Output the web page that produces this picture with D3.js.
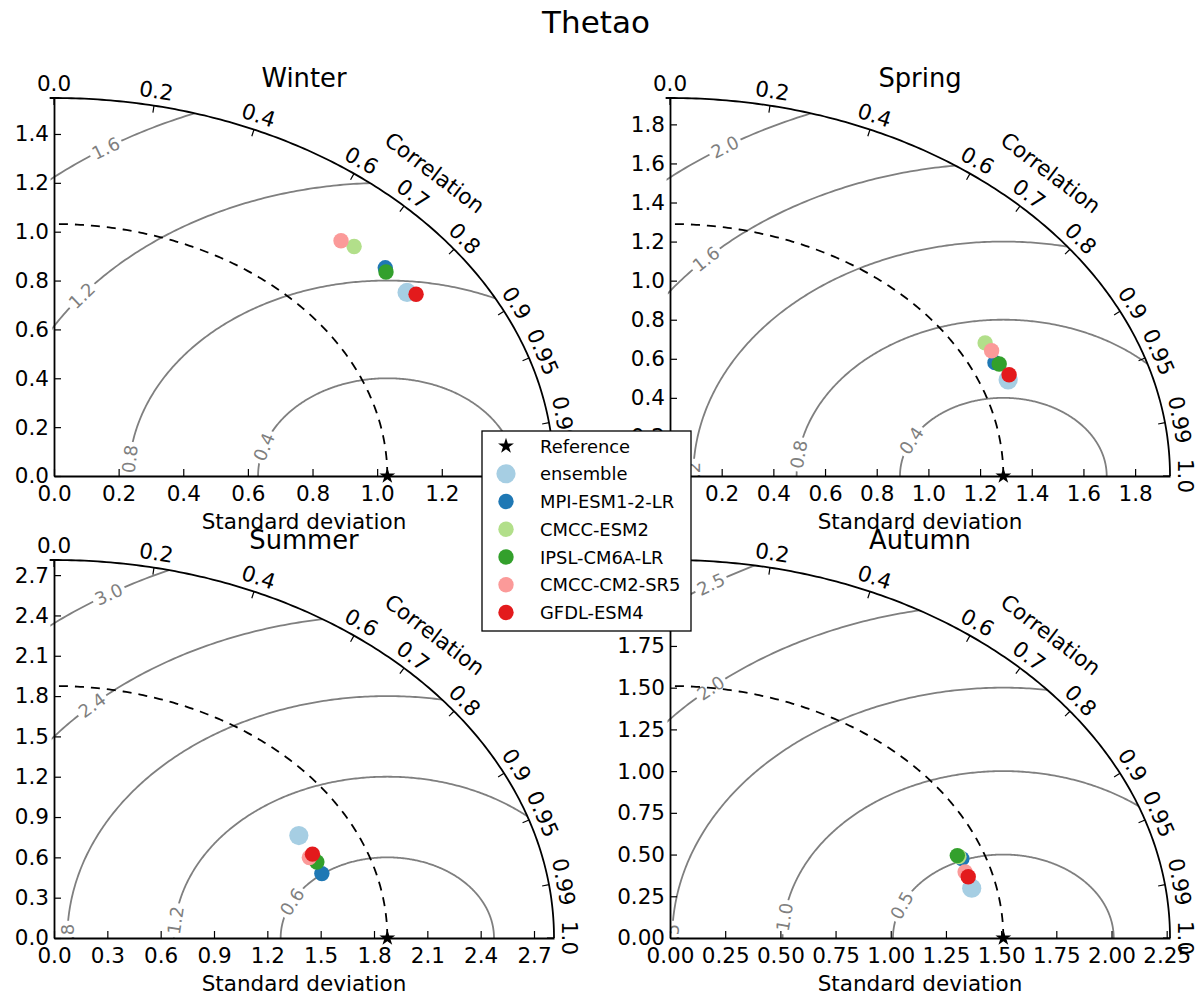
<!DOCTYPE html>
<html lang="en">
<head>
<meta charset="utf-8" />
<title>Thetao</title>
<script src="https://d3js.org/d3.v7.min.js" charset="utf-8"></script>
<style>
  body { margin: 0; background: #fff; }
  svg { display: block; font-family: "DejaVu Sans", sans-serif; }
</style>
</head>
<body>
<div id="svg-container"></div>
<script>
// ---- data ----
const seasons = ["Winter", "Spring", "Summer", "Autumn"];
const refStd = [1.0315, 1.29, 1.875, 1.51];

const models = ["ensemble", "MPI-ESM1-2-LR", "CMCC-ESM2", "IPSL-CM6A-LR", "CMCC-CM2-SR5", "GFDL-ESM4"];
const modelColors = ["#a6cee3", "#1f78b4", "#b2df8a", "#33a02c", "#fb9a99", "#e31a1c"];

const winterStd  = [1.326, 1.333, 1.321, 1.324, 1.310, 1.345];
const winterCorr = [0.824, 0.769, 0.703, 0.776, 0.678, 0.833];
const springStd  = [1.398, 1.385, 1.397, 1.397, 1.400, 1.411];
const springCorr = [0.936, 0.908, 0.873, 0.912, 0.889, 0.930];
const summerStd  = [1.574, 1.581, 1.574, 1.583, 1.556, 1.582];
const summerCorr = [0.875, 0.953, 0.926, 0.934, 0.923, 0.919];
const autumnStd  = [1.399, 1.405, 1.397, 1.392, 1.394, 1.400];
const autumnCorr = [0.977, 0.941, 0.937, 0.935, 0.959, 0.965];

// std-dev ticks (x and y axes)
const winterTicks = [0, 0.2, 0.4, 0.6, 0.8, 1.0, 1.2, 1.4];
const springTicks = [0, 0.2, 0.4, 0.6, 0.8, 1.0, 1.2, 1.4, 1.6, 1.8];
const summerTicks = [0, 0.3, 0.6, 0.9, 1.2, 1.5, 1.8, 2.1, 2.4, 2.7];
const autumnTicks = [0, 0.25, 0.5, 0.75, 1.0, 1.25, 1.5, 1.75, 2.0, 2.25];
const tickDecimals = [1, 1, 1, 2];

// correlation ticks on the arc
const corrTicks = [0, 0.2, 0.4, 0.6, 0.7, 0.8, 0.9, 0.95, 0.99, 1];

// centred RMS contour levels
const winterRms = [0.4, 0.8, 1.2, 1.6];
const springRms = [0.4, 0.8, 1.2, 1.6, 2.0];
const summerRms = [0.6, 1.2, 1.8, 2.4, 3.0];
const autumnRms = [0.5, 1.0, 1.5, 2.0, 2.5];

const stdBySeason  = [winterStd, springStd, summerStd, autumnStd];
const corrBySeason = [winterCorr, springCorr, summerCorr, autumnCorr];
const ticksBySeason = [winterTicks, springTicks, summerTicks, autumnTicks];
const rmsBySeason = [winterRms, springRms, summerRms, autumnRms];

// ---- layout ----
const W = 1199, H = 994;
const rx = 500, ry = 378;           // the quarter "circle" is stretched on screen
const origins = [[54, 476], [670, 476], [54, 938], [670, 938]];
// where clabel put each contour label (angle around the reference point, degrees)
const labelAngles = [
  [162.6, 175, 142, 123],
  [153, 172, 180, 136, 122.6],
  [153.4, 173.7, 180, 133.8, 121.5],
  [157, 172.8, 180, 131.5, 122]
];

const baseFont = 21.5, smallFont = 17.9;
const grey = "#7f7f7f";
const lw = 1.8;
const rad = 180 / Math.PI;

const svg = d3.select("#svg-container").append("svg")
  .attr("width", W).attr("height", H);
svg.append("rect").attr("width", W).attr("height", H).attr("fill", "#fff");
const defs = svg.append("defs");

svg.append("text")
  .attr("x", 596).attr("y", 22)
  .attr("text-anchor", "middle").attr("dominant-baseline", "central")
  .attr("font-size", 31).text("Thetao");

seasons.forEach((season, i) => drawPanel(i));
drawLegend();

function drawPanel(i) {
  const [ox, oy] = origins[i];
  const ref = refStd[i];
  const smax = 1.5 * ref;
  const xs = d3.scaleLinear().domain([0, smax]).range([ox, ox + rx]);
  const ys = d3.scaleLinear().domain([0, smax]).range([oy, oy - ry]);
  const g = svg.append("g");

  const line = d3.line().x(d => xs(d[0])).y(d => ys(d[1]));
  const quarter = d3.range(0, 91, 0.5).map(a => [smax * Math.cos(a / rad), smax * Math.sin(a / rad)]);

  // clip to the quarter domain
  defs.append("clipPath").attr("id", "clip" + i)
    .append("path")
    .attr("d", line([[0, 0]].concat(quarter)) + "Z");

  // contour labels first (to measure them for the inline gaps)
  const mask = defs.append("mask").attr("id", "mask" + i)
    .attr("maskUnits", "userSpaceOnUse")
    .attr("x", 0).attr("y", 0).attr("width", W).attr("height", H);
  mask.append("rect").attr("width", W).attr("height", H).attr("fill", "#fff");

  const contours = g.append("g")
    .attr("clip-path", `url(#clip${i})`)
    .attr("mask", `url(#mask${i})`);
  const labels = g.append("g").attr("clip-path", `url(#clip${i})`);

  rmsBySeason[i].forEach((R, k) => {
    const pts = d3.range(0, 180.5, 0.5).map(a => [ref + R * Math.cos(a / rad), R * Math.sin(a / rad)]);
    contours.append("path")
      .attr("d", line(pts))
      .attr("fill", "none").attr("stroke", grey).attr("stroke-width", lw);

    const phi = labelAngles[i][k] / rad;
    const lx = xs(ref + R * Math.cos(phi)), ly = ys(R * Math.sin(phi));
    const dx = -Math.sin(phi) * (xs(1) - xs(0));
    const dy = -Math.cos(phi) * (ys(0) - ys(1));
    let rot = Math.atan2(dy, dx) * rad;
    if (rot > 90) rot -= 180;
    if (rot <= -90) rot += 180;
    const t = labels.append("text")
      .attr("transform", `translate(${lx},${ly}) rotate(${rot})`)
      .attr("text-anchor", "middle").attr("dominant-baseline", "central")
      .attr("font-size", smallFont).attr("fill", grey)
      .text(R.toFixed(1));
    const len = t.node().getComputedTextLength() + 6;
    mask.append("rect")
      .attr("x", -len / 2).attr("y", -smallFont * 0.5)
      .attr("width", len).attr("height", smallFont)
      .attr("transform", `translate(${lx},${ly}) rotate(${rot})`)
      .attr("fill", "#000");
  });

  // reference std arc (dashed)
  const refArc = d3.range(0, 90.5, 0.5).map(a => [ref * Math.cos(a / rad), ref * Math.sin(a / rad)]);
  g.append("path").attr("d", line(refArc))
    .attr("fill", "none").attr("stroke", "#000").attr("stroke-width", lw)
    .attr("stroke-dasharray", "9,7");

  // std axes
  const fmt = d3.format("." + tickDecimals[i] + "f");
  const xAxis = d3.axisBottom(xs).tickValues(ticksBySeason[i]).tickFormat(fmt)
    .tickSizeInner(-7).tickSizeOuter(0).tickPadding(10);
  const yAxis = d3.axisLeft(ys).tickValues(ticksBySeason[i]).tickFormat(fmt)
    .tickSizeInner(-7).tickSizeOuter(0).tickPadding(5);
  [g.append("g").attr("transform", `translate(0,${oy})`).call(xAxis),
   g.append("g").attr("transform", `translate(${ox},0)`).call(yAxis)].forEach(ax => {
    ax.attr("font-family", null).attr("font-size", baseFont);
    ax.select(".domain").attr("stroke-width", lw);
    ax.selectAll(".tick line").attr("stroke-width", 1.2);
    ax.selectAll(".tick text").attr("fill", "#000");
  });

  // outer arc
  g.append("path").attr("d", line(quarter))
    .attr("fill", "none").attr("stroke", "#000").attr("stroke-width", lw);

  // correlation ticks and labels
  corrTicks.forEach(r => {
    const th = Math.acos(r);
    const px = xs(smax * Math.cos(th)), py = ys(smax * Math.sin(th));
    let nx = Math.cos(th) / rx, ny = -Math.sin(th) / ry;
    const nl = Math.hypot(nx, ny); nx /= nl; ny /= nl;
    g.append("line")
      .attr("x1", px).attr("y1", py).attr("x2", px - 7 * nx).attr("y2", py - 7 * ny)
      .attr("stroke", "#000").attr("stroke-width", 1.2);
    const rot = Math.atan2(ry * Math.cos(th), rx * Math.sin(th)) * rad;
    g.append("text")
      .attr("transform", `translate(${px + 15 * nx},${py + 15 * ny}) rotate(${rot})`)
      .attr("text-anchor", "middle").attr("dominant-baseline", "central")
      .attr("font-size", baseFont)
      .text(Number.isInteger(r) ? r.toFixed(1) : String(r));
  });
  {
    const th = Math.PI / 4;
    const px = xs(smax * Math.cos(th)), py = ys(smax * Math.sin(th));
    let nx = Math.cos(th) / rx, ny = -Math.sin(th) / ry;
    const nl = Math.hypot(nx, ny); nx /= nl; ny /= nl;
    const rot = Math.atan2(ry * Math.cos(th), rx * Math.sin(th)) * rad;
    g.append("text")
      .attr("transform", `translate(${px + 45 * nx},${py + 45 * ny}) rotate(${rot})`)
      .attr("text-anchor", "middle").attr("dominant-baseline", "central")
      .attr("font-size", baseFont).text("Correlation");
  }

  // model points
  const pts = models.map((m, k) => {
    const s = stdBySeason[i][k], c = corrBySeason[i][k];
    return { m, k, x: s * c, y: s * Math.sin(Math.acos(c)) };
  });
  g.append("g").selectAll("circle").data(pts).join("circle")
    .attr("cx", d => xs(d.x)).attr("cy", d => ys(d.y))
    .attr("r", d => d.k === 0 ? 9.6 : 7.7)
    .attr("fill", d => modelColors[d.k]);

  // reference star
  g.append("path")
    .attr("d", d3.symbol(d3.symbolStar, 78)())
    .attr("transform", `translate(${xs(ref)},${ys(0)})`)
    .attr("fill", "#000");

  // titles
  g.append("text")
    .attr("x", ox + rx / 2).attr("y", oy - ry - 20)
    .attr("text-anchor", "middle").attr("dominant-baseline", "central")
    .attr("font-size", 25.8).text(seasons[i]);
  g.append("text")
    .attr("x", ox + rx / 2).attr("y", oy + 45)
    .attr("text-anchor", "middle").attr("dominant-baseline", "central")
    .attr("font-size", baseFont).text("Standard deviation");
}

function drawLegend() {
  const lg = svg.append("g").attr("transform", "translate(482,431)");
  lg.append("rect").attr("width", 209).attr("height", 200)
    .attr("fill", "#fff").attr("stroke", "#000").attr("stroke-width", 1.3);
  const entries = ["Reference"].concat(models);
  entries.forEach((name, j) => {
    const y = 15 + j * 27.75;
    if (j === 0) {
      lg.append("path").attr("d", d3.symbol(d3.symbolStar, 78)())
        .attr("transform", `translate(24,${y})`).attr("fill", "#000");
    } else {
      lg.append("circle").attr("cx", 24).attr("cy", y)
        .attr("r", j === 1 ? 9.6 : 7.7).attr("fill", modelColors[j - 1]);
    }
    lg.append("text").attr("x", 58).attr("y", y)
      .attr("dominant-baseline", "central").attr("font-size", smallFont)
      .text(name);
  });
}
</script>
</body>
</html>
